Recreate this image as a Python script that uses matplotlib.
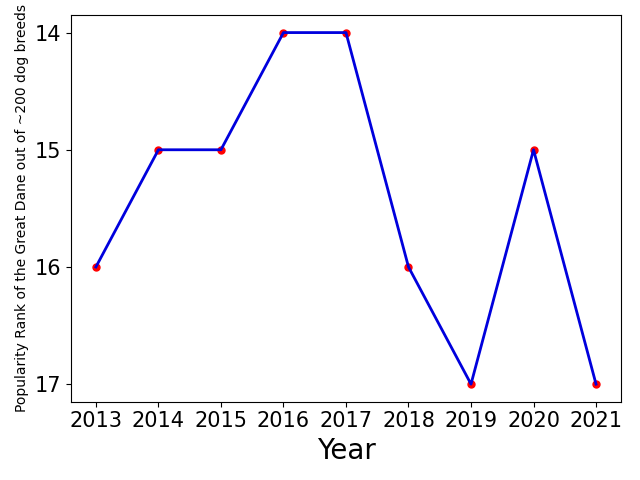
import numpy as np
import matplotlib
matplotlib.use("Agg")
import matplotlib.pyplot as plt

years = [2013, 2014, 2015, 2016, 2017, 2018, 2019, 2020, 2021]
rank = [16, 15, 15, 14, 14, 16, 17, 15, 17]

fig, ax = plt.subplots(figsize=(6.4, 4.8), dpi=100)
ax.scatter(years, rank, color="red", s=25, zorder=1)
ax.plot(years, rank, color="#0000dd", linewidth=2, zorder=2)
ax.invert_yaxis()
ax.set_xticks(years)
ax.set_yticks([14, 15, 16, 17])
ax.tick_params(axis="both", labelsize=15)
ax.set_xlabel("Year", fontsize=20)
ax.set_ylabel("Popularity Rank of the Great Dane out of ~200 dog breeds", fontsize=10)
fig.tight_layout()
fig.savefig("out.png")
